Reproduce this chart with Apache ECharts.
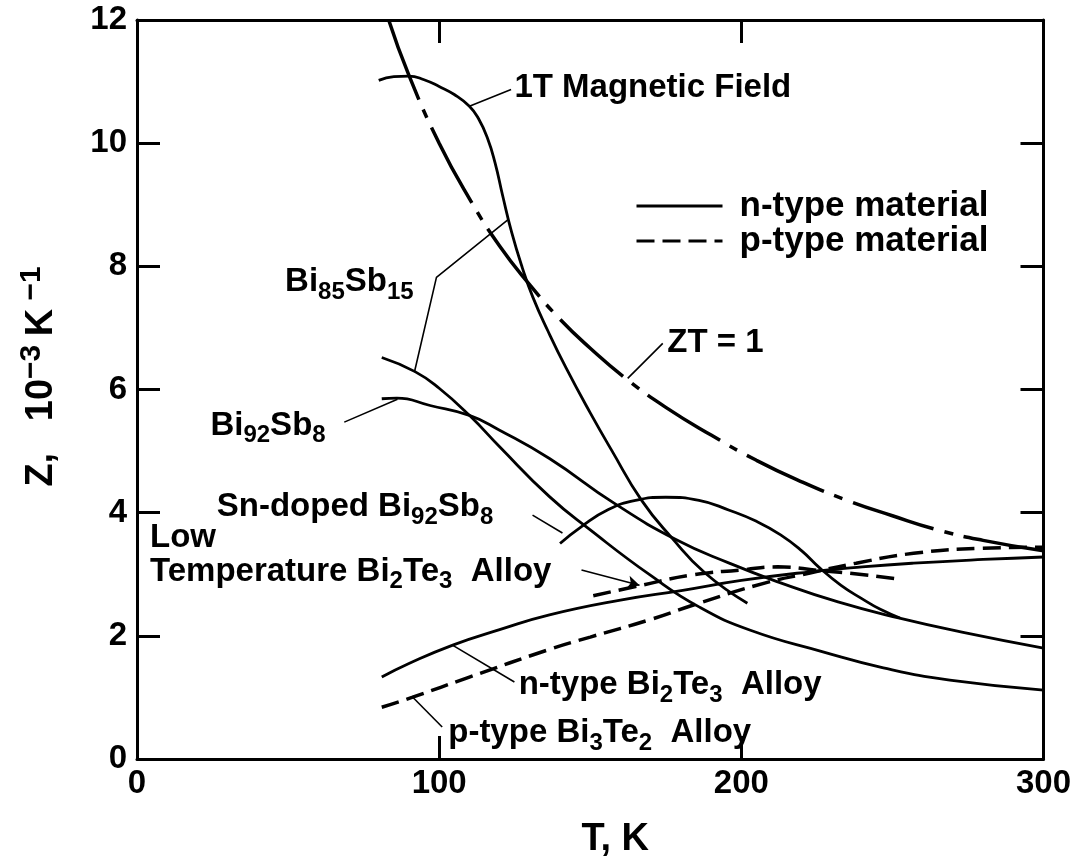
<!DOCTYPE html>
<html>
<head>
<meta charset="utf-8">
<title>Z vs T</title>
<script src="https://cdn.jsdelivr.net/npm/echarts@6/dist/echarts.min.js"></script>
<style>
html, body { margin: 0; padding: 0; background: #fff; }
#chart { width: 1081px; height: 859px; }
</style>
</head>
<body>
<div id="chart"></div>
<script>
// 数据: T (K), Z (10^-3 K^-1)
const xTicks = [0, 100, 200, 300]
const yTicks = [0, 2, 4, 6, 8, 10, 12]

// ZT = 1 (点划线)
const ztOneT = [83.3, 90, 100, 110, 120, 130, 140, 150, 162, 175, 190, 205, 220, 235, 250, 265, 280, 300]
const ztOneZ = [12.0, 11.1, 10.0, 9.1, 8.33, 7.7, 7.14, 6.67, 6.17, 5.71, 5.26, 4.85, 4.5, 4.2, 3.95, 3.72, 3.55, 3.38]

// Bi85Sb15, 1T 磁场
const fieldT = [80, 85, 90, 95, 100, 105, 110, 113, 116, 118.5, 121, 124, 127.5, 131, 136, 142, 150, 157, 167, 177, 188, 202]
const fieldZ = [11.02, 11.08, 11.09, 11.03, 10.92, 10.79, 10.6, 10.4, 10.08, 9.68, 9.15, 8.55, 7.98, 7.5, 6.95, 6.35, 5.62, 5.02, 4.2, 3.59, 3.02, 2.53]

// Bi85Sb15
const bi85T = [81, 92, 100, 110, 120, 136.5, 150, 170, 186, 203, 227, 247, 269, 300]
const bi85Z = [6.52, 6.29, 6.02, 5.58, 5.07, 4.26, 3.72, 2.98, 2.47, 2.09, 1.74, 1.48, 1.28, 1.12]

// Bi92Sb8
const bi92T = [81, 86, 97, 110, 120, 136.5, 158, 178.5, 196, 213, 232, 252, 273, 300]
const bi92Z = [5.85, 5.86, 5.74, 5.58, 5.34, 4.88, 4.15, 3.56, 3.18, 2.86, 2.55, 2.29, 2.06, 1.8]

// Sn-doped Bi92Sb8
const snT = [140, 147, 156, 165, 175, 186, 196, 205, 213, 220, 226, 233, 240, 246, 252.5]
const snZ = [3.5, 3.77, 4.05, 4.2, 4.25, 4.2, 4.04, 3.86, 3.64, 3.38, 3.1, 2.82, 2.6, 2.43, 2.29]

// n-type Bi2Te3 Alloy
const nTeT = [81, 90, 104.5, 120, 136.5, 160, 180.6, 200, 222.7, 240, 257, 280, 300]
const nTeZ = [1.33, 1.55, 1.85, 2.1, 2.34, 2.58, 2.74, 2.9, 3.04, 3.12, 3.18, 3.24, 3.28]

// p-type Bi3Te2 Alloy (虚线)
const pTeT = [81, 91, 110, 136.5, 150, 169.6, 186, 208, 222.7, 238, 257, 279, 300]
const pTeZ = [0.84, 1.0, 1.33, 1.78, 1.98, 2.26, 2.53, 2.86, 3.02, 3.18, 3.34, 3.42, 3.44]

// Low Temperature Bi2Te3 Alloy (虚线)
const lowT = [151, 165, 184, 200, 212, 226, 239, 252]
const lowZ = [2.65, 2.8, 2.99, 3.07, 3.12, 3.06, 3.0, 2.92]

// 标注文字 [T, Z] (文字左侧中点)
const noteText = [
    '{b|1T Magnetic Field}',
    '{b|Bi}{s|85}{b|Sb}{s|15}',
    '{b|Bi}{s|92}{b|Sb}{s|8}',
    '{b|Sn-doped Bi}{s|92}{b|Sb}{s|8}',
    '{b|Low}',
    '{b|Temperature Bi}{s|2}{b|Te}{s|3}{b|  Alloy}',
    '{b|n-type Bi}{s|2}{b|Te}{s|3}{b|  Alloy}',
    '{b|p-type Bi}{s|3}{b|Te}{s|2}{b|  Alloy}',
    '{b|ZT = 1}',
]
const noteT = [124.9, 49, 24.3, 26.4, 4.3, 4.3, 126.3, 103, 175.5]
const noteZ = [10.89, 7.74, 5.41, 4.09, 3.59, 3.04, 1.2, 0.42, 6.75]

// 引线
const leaders = [
    [[110, 10.6], [123.8, 10.87]],
    [[91.8, 6.28], [99.1, 7.82], [122.6, 8.75]],
    [[68.6, 5.47], [86.2, 5.84]],
    [[130.9, 3.96], [140.8, 3.67]],
    [[104.4, 1.85], [124.9, 1.25]],
    [[91.1, 1.01], [101, 0.52]],
    [[162.4, 6.18], [174, 6.75]],
]
const arrowFrom = [147.1, 3.07]
const arrowTo = [166.3, 2.82]

const FONT = 'Liberation Sans'
const WEIGHT = 'bold'
const zip = (xs, ys) => xs.map((x, i) => [x, ys[i]])

function curve (name, xs, ys, dash, width) {
    return {
        name: name,
        type: 'line',
        data: zip(xs, ys),
        smooth: 0.5,
        symbol: 'none',
        silent: true,
        lineStyle: { color: '#000', width: width || 2.8, type: dash || 'solid', cap: 'butt' },
    }
}

const DASH = [18, 8]
const DASH_DOT = [85, 11, 9, 11]

const axisCommon = {
    min: 0,
    axisLine: { show: true, onZero: false, lineStyle: { color: '#000', width: 3 } },
    axisTick: { show: true, inside: true, length: 23, lineStyle: { color: '#000', width: 3 } },
    splitLine: { show: false },
}

let series = [
    curve('ZT = 1', ztOneT, ztOneZ, DASH_DOT, 3.5),
    curve('1T Magnetic Field', fieldT, fieldZ),
    curve('Bi85Sb15', bi85T, bi85Z),
    curve('Bi92Sb8', bi92T, bi92Z),
    curve('Sn-doped Bi92Sb8', snT, snZ),
    curve('n-type Bi2Te3 Alloy', nTeT, nTeZ),
    curve('p-type Bi3Te2 Alloy', pTeT, pTeZ, DASH, 3.5),
    curve('Low Temperature Bi2Te3 Alloy', lowT, lowZ, DASH, 3.5),
]

leaders.forEach((pts, i) => {
    series.push({
        name: 'leader' + i,
        type: 'line',
        data: pts,
        symbol: 'none',
        silent: true,
        lineStyle: { color: '#000', width: 1.6 },
    })
})

// 箭头引线
series.push({
    name: 'arrow',
    type: 'line',
    data: [],
    silent: true,
    markLine: {
        silent: true,
        symbol: ['none', 'arrow'],
        symbolSize: [10, 12],
        label: { show: false },
        lineStyle: { color: '#000', width: 1.6, type: 'solid' },
        data: [[{ coord: arrowFrom }, { coord: arrowTo }]],
    },
})

// 标注文字
series.push({
    name: 'notes',
    type: 'scatter',
    symbolSize: 0,
    silent: true,
    itemStyle: { color: '#000', opacity: 1 },
    data: noteText.map((t, i) => ({
        value: [noteT[i], noteZ[i]],
        label: { formatter: t },
    })),
    label: {
        show: true,
        position: 'right',
        distance: 0,
        color: '#000',
        rich: {
            b: { fontFamily: FONT, fontWeight: WEIGHT, fontSize: 33, lineHeight: 44, color: '#000' },
            s: { fontFamily: FONT, fontWeight: WEIGHT, fontSize: 24, lineHeight: 12, verticalAlign: 'bottom', color: '#000' },
        },
    },
})

// 图例用
series.push({ name: 'n-type material', type: 'line', data: [], symbol: 'none', lineStyle: { color: '#000', width: 3 } })
series.push({ name: 'p-type material', type: 'line', data: [], symbol: 'none', lineStyle: { color: '#000', width: 3, type: DASH } })

const chart = echarts.init(document.getElementById('chart'), null, { renderer: 'canvas' })
chart.setOption({
    animation: false,
    backgroundColor: '#fff',
    grid: { left: 137, right: 37.5, top: 20, bottom: 100, containLabel: false, outerBoundsMode: 'none' },
    legend: {
        data: ['n-type material', 'p-type material'],
        left: 630,
        top: 183.5,
        orient: 'vertical',
        itemWidth: 86,
        itemHeight: 14,
        itemGap: 0,
        selectedMode: false,
        itemStyle: { opacity: 0 },
        lineStyle: { width: 3 },
        textStyle: { fontFamily: FONT, fontWeight: WEIGHT, fontSize: 35, lineHeight: 33, color: '#000', padding: [0, 0, 0, 12] },
    },
    xAxis: [
        Object.assign({}, axisCommon, {
            type: 'value', position: 'bottom', max: xTicks[xTicks.length - 1], interval: 100,
            name: 'T, K', nameLocation: 'middle', nameGap: 62,
            nameTextStyle: { fontFamily: FONT, fontWeight: WEIGHT, fontSize: 38, color: '#000', padding: [0, 0, 0, 50] },
            axisLabel: { fontFamily: FONT, fontWeight: WEIGHT, fontSize: 33, color: '#000', margin: 8 },
        }),
        Object.assign({}, axisCommon, {
            type: 'value', position: 'top', max: xTicks[xTicks.length - 1], interval: 100,
            axisLabel: { show: false },
        }),
    ],
    yAxis: [
        Object.assign({}, axisCommon, {
            type: 'value', position: 'left', max: yTicks[yTicks.length - 1], interval: 2,
            name: '{b|Z,   10}{s|−3 }{b|K}{s| −1}', nameLocation: 'middle', nameRotate: 90, nameGap: 70,
            nameTextStyle: {
                padding: [0, 0, 0, 26],
                rich: {
                    b: { fontFamily: FONT, fontWeight: WEIGHT, fontSize: 38, lineHeight: 50, color: '#000' },
                    s: { fontFamily: FONT, fontWeight: WEIGHT, fontSize: 30, lineHeight: 14, verticalAlign: 'top', color: '#000' },
                },
            },
            axisLabel: { fontFamily: FONT, fontWeight: WEIGHT, fontSize: 33, color: '#000', margin: 10 },
        }),
        Object.assign({}, axisCommon, {
            type: 'value', position: 'right', max: yTicks[yTicks.length - 1], interval: 2,
            axisLabel: { show: false },
        }),
    ],
    series: series,
})
</script>
</body>
</html>
